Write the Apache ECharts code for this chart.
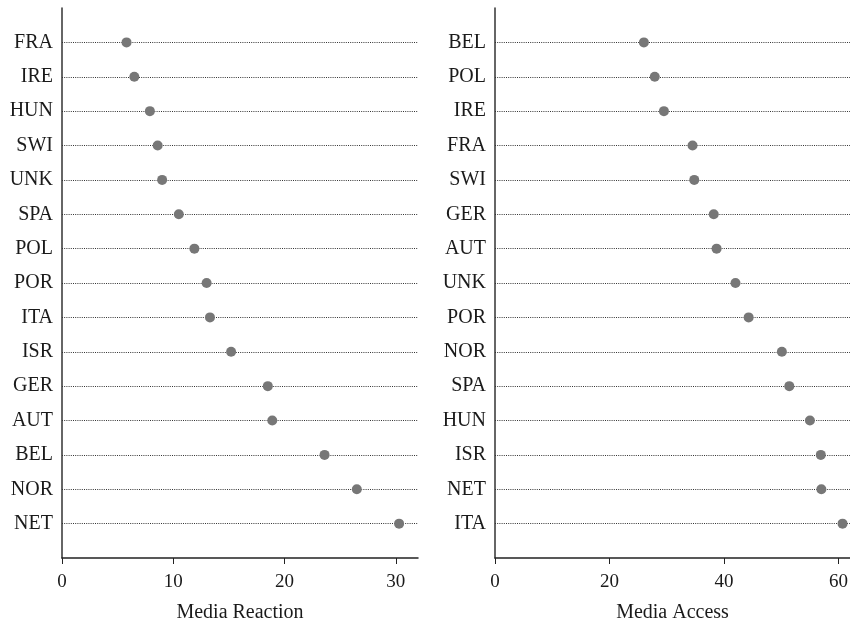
<!DOCTYPE html>
<html lang="en">
<head>
    <meta charset="UTF-8">
    <title>Media Reaction / Media Access</title>
    <script src="https://cdn.jsdelivr.net/npm/echarts@6/dist/echarts.min.js"></script>
    <style>
        * { margin: 0; padding: 0; }
        body { background: #fff; }
        #paint { width: 850px; height: 620px; }
    </style>
</head>
<body>
    <div id="paint"></div>
    <script>
        // left panel, top to bottom
        var reactionCountries = ['FRA', 'IRE', 'HUN', 'SWI', 'UNK', 'SPA', 'POL', 'POR', 'ITA', 'ISR', 'GER', 'AUT', 'BEL', 'NOR', 'NET'];
        var reactionValues = [5.8, 6.5, 7.9, 8.6, 9.0, 10.5, 11.9, 13.0, 13.3, 15.2, 18.5, 18.9, 23.6, 26.5, 30.3];

        // right panel, top to bottom
        var accessCountries = ['BEL', 'POL', 'IRE', 'FRA', 'SWI', 'GER', 'AUT', 'UNK', 'POR', 'NOR', 'SPA', 'HUN', 'ISR', 'NET', 'ITA'];
        var accessValues = [26.0, 27.9, 29.5, 34.5, 34.8, 38.2, 38.7, 42.0, 44.3, 50.1, 51.4, 55.0, 56.9, 57.0, 60.7];

        var reactionTicks = [0, 10, 20, 30];
        var accessTicks = [0, 20, 40, 60];

        var font = 'Liberation Serif';
        var ink = '#1a1a1a';

        function pairs(names, vals) {
            var out = [];
            for (var i = 0; i < names.length; i++) {
                out.push([vals[i], names[i]]);
            }
            return out;
        }

        function yAxisFor(names, idx) {
            return {
                type: 'category',
                gridIndex: idx,
                inverse: true,
                boundaryGap: false,
                data: [''].concat(names).concat(['']),
                axisLine: { show: true, lineStyle: { color: '#333', width: 1.5 } },
                axisTick: { show: false },
                axisLabel: { color: ink, fontFamily: font, fontSize: 20, margin: 9 },
                splitLine: {
                    show: true,
                    interval: function (index, value) { return value !== ''; },
                    lineStyle: { color: '#333', type: [1, 1.2], width: 1 }
                }
            };
        }

        function xAxisFor(name, max, ticks, idx) {
            return {
                type: 'value',
                gridIndex: idx,
                min: 0,
                max: max,
                name: name,
                nameLocation: 'middle',
                nameGap: 45,
                nameTextStyle: { color: ink, fontFamily: font, fontSize: 20 },
                axisLine: { show: true, onZero: false, lineStyle: { color: '#222', width: 1.5 } },
                axisTick: { show: true, length: 6, customValues: ticks, lineStyle: { color: '#222' } },
                axisLabel: { color: ink, fontFamily: font, fontSize: 19, margin: 15, customValues: ticks },
                splitLine: { show: false }
            };
        }

        var mychart = echarts.init(document.getElementById('paint'));
        var option = {
            animation: false,
            grid: [
                { left: 62, top: 8, width: 356, bottom: 62, outerBoundsMode: 'none' },
                { left: 495, top: 8, right: 0, bottom: 62, outerBoundsMode: 'none' }
            ],
            xAxis: [
                xAxisFor('Media Reaction', 32, reactionTicks, 0),
                xAxisFor('Media Access', 62, accessTicks, 1)
            ],
            yAxis: [
                yAxisFor(reactionCountries, 0),
                yAxisFor(accessCountries, 1)
            ],
            series: [
                {
                    type: 'scatter',
                    xAxisIndex: 0,
                    yAxisIndex: 0,
                    symbolSize: 10,
                    itemStyle: { color: '#777', opacity: 1 },
                    data: pairs(reactionCountries, reactionValues)
                },
                {
                    type: 'scatter',
                    xAxisIndex: 1,
                    yAxisIndex: 1,
                    symbolSize: 10,
                    itemStyle: { color: '#777', opacity: 1 },
                    data: pairs(accessCountries, accessValues)
                }
            ]
        };
        mychart.setOption(option);
    </script>
</body>
</html>
